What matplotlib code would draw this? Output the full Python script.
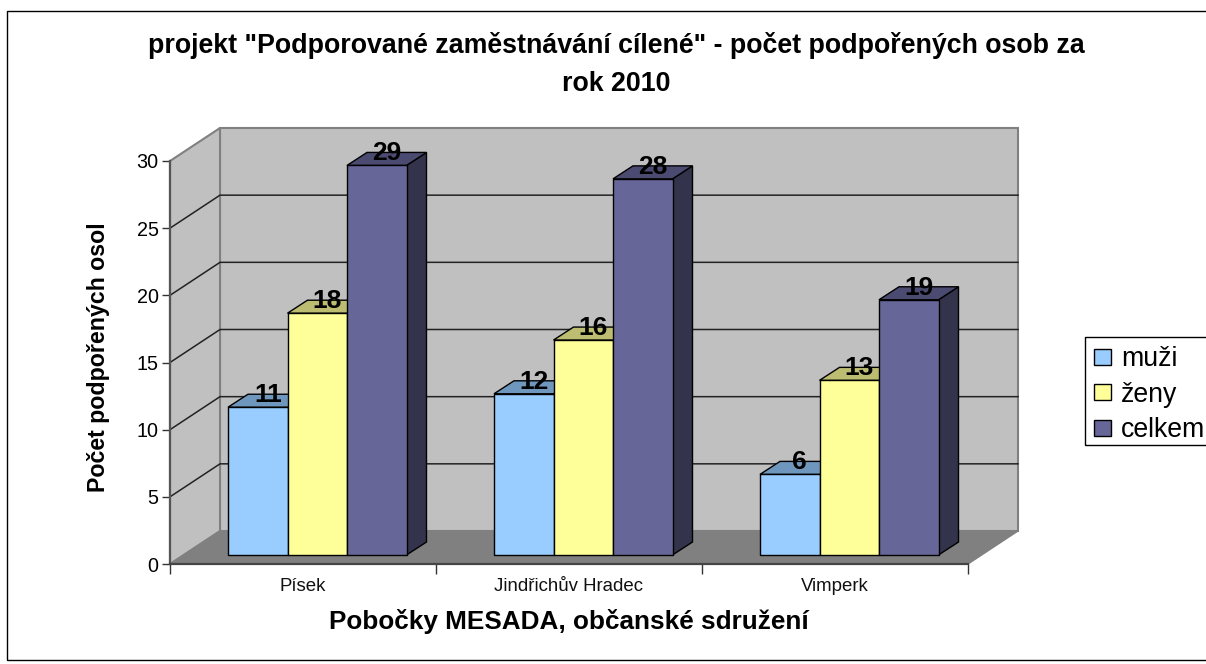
import matplotlib
matplotlib.use("Agg")
import matplotlib.pyplot as plt
from matplotlib.patches import Polygon, Patch, Rectangle

plt.rcParams['font.family'] = ['Liberation Sans', 'DejaVu Sans']

categories = ["Písek", "Jindřichův Hradec", "Vimperk"]
series_names = ["muži", "ženy", "celkem"]
muzi = [11, 12, 6]
zeny = [18, 16, 13]
celkem = [29, 28, 19]
series_values = [muzi, zeny, celkem]
y_ticks = [0, 5, 10, 15, 20, 25, 30]
title = 'projekt "Podporované zaměstnávání cílené" - počet podpořených osob za\nrok 2010'
x_title = "Pobočky MESADA, občanské sdružení"
y_title = "Počet podpořených osol"

front = ["#99CCFF", "#FFFF99", "#666699"]
top = ["#6F97BD", "#BDBD71", "#4B4B71"]
side = ["#4C6680", "#80804C", "#33334C"]

W, H = 1206, 664
fig = plt.figure(figsize=(W / 100, H / 100), dpi=100, facecolor="white")
fig.add_artist(Rectangle((7 / W, 1 - 660 / H), 1300 / W, 649 / H, transform=fig.transFigure,
                         fill=False, ec="black", lw=1.0))

L, R, T, B = 170, 968, 161, 564
ax = fig.add_axes([L / W, 1 - B / H, (R - L) / W, (B - T) / H])
ax.set_xlim(0, 3)
ax.set_ylim(0, 30)
ax.patch.set_visible(False)
for s in ax.spines.values():
    s.set_visible(False)

ux = (R - L) / 3      # pixels per category
uy = (B - T) / 30     # pixels per value unit
DX, DY = 50 / ux, 33 / uy               # full depth of the box
bx0, by0 = 14 / ux, 9 / uy              # bar front offset in depth
bdx, bdy = 20 / ux, 13 / uy             # bar depth
bar_w = 59.5 / ux
bar_start = 44 / ux
wall, floor, edge = "#C0C0C0", "#808080", "#808080"

def poly(pts, fc, ec="black", lw=1.0, z=1):
    ax.add_patch(Polygon(pts, closed=True, fc=fc, ec=ec, lw=lw, zorder=z, clip_on=False,
                         joinstyle="miter"))

ymax = y_ticks[-1]
poly([(DX, 0 + DY), (3 + DX, DY), (3 + DX, ymax + DY), (DX, ymax + DY)], wall, edge, 1.5, 1)
poly([(0, 0), (DX, DY), (DX, ymax + DY), (0, ymax)], wall, edge, 1.5, 1)
poly([(0, 0), (3, 0), (3 + DX, DY), (DX, DY)], floor, "#808080", 1.0, 1)

for v in y_ticks[1:-1]:
    ax.plot([0, DX, 3 + DX], [v, v + DY, v + DY], color="#222222", lw=1.1, zorder=2, clip_on=False)
ax.plot([0, 0], [0, ymax], color="#555555", lw=1.6, zorder=2, clip_on=False)
ax.plot([0, 3], [0, 0], color="#444444", lw=1.6, zorder=2, clip_on=False)

for c in range(len(categories)):
    for s, vals in enumerate(series_values):
        v = vals[c]
        x0 = c + bar_start + bx0 + s * bar_w
        x1 = x0 + bar_w
        y0 = by0
        y1 = by0 + v
        poly([(x1, y0), (x1 + bdx, y0 + bdy), (x1 + bdx, y1 + bdy), (x1, y1)], side[s], z=3 + s)
        poly([(x0, y1), (x1, y1), (x1 + bdx, y1 + bdy), (x0 + bdx, y1 + bdy)], top[s], z=3 + s)
        poly([(x0, y0), (x1, y0), (x1, y1), (x0, y1)], front[s], z=3 + s)
        ax.text((x0 + x1) / 2 + bdx / 2, y1 + bdy / 2 + 0.42, str(v), ha="center", va="center",
                fontsize=19, fontweight="bold", color="black", zorder=10)

ax.set_yticks(y_ticks)
ax.set_xticks(range(len(categories) + 1))
ax.set_xticklabels([""] * (len(categories) + 1))
ax.tick_params(axis="y", length=6, width=1, labelsize=14.2, pad=2.2, color="#333333")
ax.tick_params(axis="x", length=7, width=1, color="#333333")
for c, name in enumerate(categories):
    ax.text(c + 0.5, -1.65, name, ha="center", va="center", fontsize=13.4, color="#111111",
            clip_on=False)

fig.text(616 / W, 1 - 64.5 / H, title, ha="center", va="center", fontsize=19.25, fontweight="bold",
         linespacing=1.6)
fig.text(569 / W, 1 - 622 / H, x_title, ha="center", va="center", fontsize=18.8, fontweight="bold")
fig.text(98.5 / W, 1 - 357 / H, y_title, ha="center", va="center", rotation=90, fontsize=16.7,
         fontweight="bold")

fig.add_artist(Rectangle((1085 / W, 1 - 445 / H), 200 / W, 108 / H, transform=fig.transFigure,
                         fill=False, ec="black", lw=1.0))
handles = [Patch(fc=front[i], ec="black", lw=1.0, label=series_names[i]) for i in range(3)]
leg = fig.legend(handles=handles, loc="upper left", bbox_to_anchor=(1085 / W, 1 - 337 / H),
                 bbox_transform=fig.transFigure, frameon=False,
                 fontsize=19.2, handlelength=0.64, handleheight=0.56,
                 handletextpad=0.37, labelspacing=0.36, borderpad=0.34, borderaxespad=0)

fig.savefig("out.png", dpi=100, facecolor="white")
